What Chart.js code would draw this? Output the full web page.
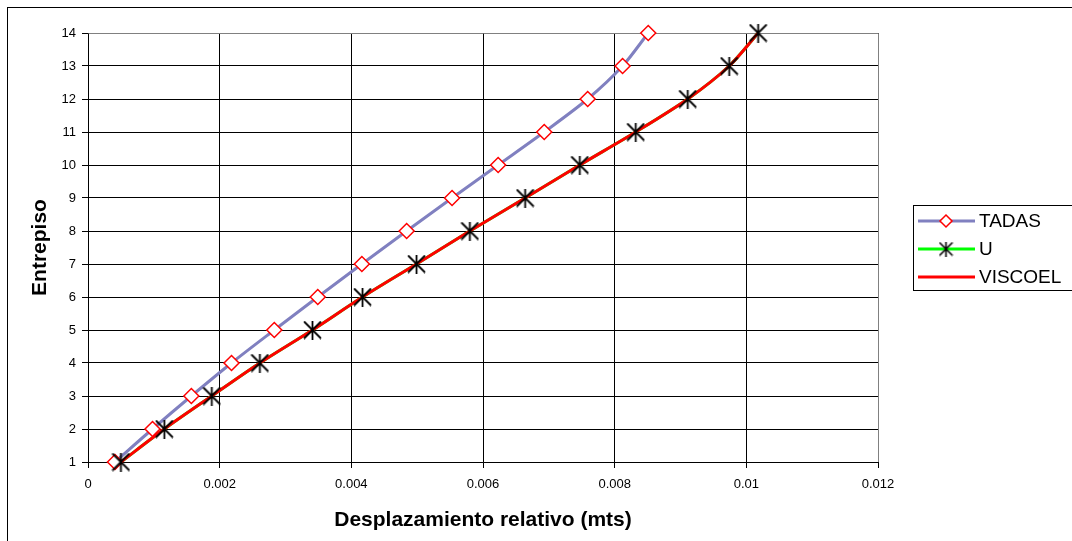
<!DOCTYPE html>
<html>
<head>
<meta charset="utf-8">
<script src="https://cdn.jsdelivr.net/npm/chart.js@4.4.0/dist/chart.umd.min.js"></script>
<style>
  html, body { margin: 0; padding: 0; background: #fff; }
  #wrap { width: 1072px; height: 541px; }
</style>
</head>
<body>
<div id="wrap"><canvas id="graph" width="1072" height="541"></canvas></div>
<script>
  // data
  const floors = [1, 2, 3, 4, 5, 6, 7, 8, 9, 10, 11, 12, 13, 14];
  const tadasX = [0.00041, 0.00098, 0.00157, 0.00218, 0.00283, 0.00349, 0.00416, 0.00484, 0.00553, 0.00623, 0.00693, 0.00759, 0.00812, 0.00851];
  const uX = [0.00050, 0.00116, 0.00188, 0.00261, 0.00341, 0.00417, 0.00499, 0.00580, 0.00664, 0.00747, 0.00832, 0.00911, 0.00974, 0.01018];
  const viscoelX = [0.00050, 0.00116, 0.00188, 0.00261, 0.00341, 0.00417, 0.00499, 0.00580, 0.00664, 0.00747, 0.00832, 0.00911, 0.00974, 0.01018];
  const xTicks = [0, 0.002, 0.004, 0.006, 0.008, 0.01, 0.012];
  const yTicks = [1, 2, 3, 4, 5, 6, 7, 8, 9, 10, 11, 12, 13, 14];
  const seriesNames = ["TADAS", "U", "VISCOEL"];

  const FONT = "Arial, 'Liberation Sans', sans-serif";
  const TADAS_COLOR = "#8080C0";
  const U_COLOR = "#00FF00";
  const VISCO_COLOR = "#FF0000";

  const pts = (xs) => xs.map((x, i) => ({ x: x, y: floors[i] }));

  // excel style asterisk marker
  function makeStar(size, lw) {
    const c = document.createElement("canvas");
    c.width = size;
    c.height = size;
    const g = c.getContext("2d");
    const m = size / 2;
    const r = size / 2 - 1;
    g.strokeStyle = "#000";
    g.lineWidth = lw;
    g.beginPath();
    g.moveTo(m - r, m - r); g.lineTo(m + r, m + r);
    g.moveTo(m + r, m - r); g.lineTo(m - r, m + r);
    g.moveTo(m, 0); g.lineTo(m, size);
    g.stroke();
    return c;
  }
  const star = makeStar(19, 1.8);
  const smallStar = makeStar(15, 1.6);

  const frame = {
    id: "frame",
    beforeDatasetsDraw(chart) {
      const a = chart.chartArea;
      const ctx = chart.ctx;
      ctx.save();
      ctx.strokeStyle = "#808080";
      ctx.lineWidth = 1;
      ctx.beginPath();
      ctx.moveTo(Math.round(a.left) + 0.5, Math.round(a.top) + 0.5);
      ctx.lineTo(Math.round(a.right) + 0.5, Math.round(a.top) + 0.5);
      ctx.lineTo(Math.round(a.right) + 0.5, Math.round(a.bottom));
      ctx.stroke();
      ctx.restore();
    },
    afterDraw(chart) {
      const ctx = chart.ctx;
      ctx.save();
      ctx.strokeStyle = "#000";
      ctx.lineWidth = 1;
      ctx.strokeRect(7.5, 7.5, 1100, 600);

      // legend
      ctx.strokeRect(913.5, 205.5, 200, 85);
      const rows = [221, 249, 277];
      const cols = [TADAS_COLOR, U_COLOR, VISCO_COLOR];
      rows.forEach((y, i) => {
        ctx.strokeStyle = cols[i];
        ctx.lineWidth = 3;
        ctx.beginPath();
        ctx.moveTo(918, y);
        ctx.lineTo(975, y);
        ctx.stroke();
      });
      // diamond
      ctx.strokeStyle = "#FF0000";
      ctx.fillStyle = "#fff";
      ctx.lineWidth = 1.5;
      ctx.beginPath();
      ctx.moveTo(946, rows[0] - 6);
      ctx.lineTo(952, rows[0]);
      ctx.lineTo(946, rows[0] + 6);
      ctx.lineTo(940, rows[0]);
      ctx.closePath();
      ctx.fill();
      ctx.stroke();
      ctx.drawImage(smallStar, 946 - 7.5, rows[1] - 7.5);

      ctx.fillStyle = "#000";
      ctx.font = "19px " + FONT;
      ctx.textBaseline = "middle";
      ctx.textAlign = "left";
      seriesNames.forEach((n, i) => ctx.fillText(n, 979, rows[i] + 1));
      ctx.restore();
    }
  };

  new Chart(document.getElementById("graph").getContext("2d"), {
    type: "scatter",
    data: {
      datasets: [
        {
          label: "U markers",
          data: pts(uX),
          showLine: false,
          pointStyle: star,
          order: 0,
          clip: false
        },
        {
          label: seriesNames[0],
          data: pts(tadasX),
          showLine: true,
          borderColor: TADAS_COLOR,
          borderWidth: 3,
          tension: 0.3,
          pointStyle: "rectRot",
          pointRadius: 7.5,
          pointBorderColor: "#FF0000",
          pointBackgroundColor: "#FFFFFF",
          pointBorderWidth: 1.5,
          order: 1,
          clip: false
        },
        {
          label: seriesNames[2],
          data: pts(viscoelX),
          showLine: true,
          borderColor: VISCO_COLOR,
          borderWidth: 3,
          tension: 0.3,
          pointRadius: 0,
          order: 2,
          clip: false
        },
        {
          label: seriesNames[1],
          data: pts(uX),
          showLine: true,
          borderColor: U_COLOR,
          borderWidth: 3,
          tension: 0.3,
          pointRadius: 0,
          order: 3,
          clip: false
        }
      ]
    },
    options: {
      responsive: false,
      animation: false,
      devicePixelRatio: 1,
      layout: { padding: { left: 0, top: 33, right: 194, bottom: 0 } },
      plugins: { legend: { display: false }, tooltip: { enabled: false } },
      scales: {
        x: {
          type: "linear",
          min: 0,
          max: 0.012,
          afterFit: (s) => { s.height = 79; },
          afterBuildTicks: (s) => { s.ticks = xTicks.map((v) => ({ value: v })); },
          ticks: {
            color: "#000",
            font: { family: FONT, size: 13 },
            padding: 9,
            maxRotation: 0,
            callback: (v) => String(v)
          },
          grid: { color: "#000", lineWidth: 1, tickLength: 6 },
          border: { color: "#000" },
          title: {
            display: true,
            text: "Desplazamiento relativo (mts)",
            color: "#000",
            font: { family: FONT, size: 21, weight: "bold" },
            padding: { top: 0, bottom: 8 }
          }
        },
        y: {
          type: "linear",
          min: 1,
          max: 14,
          afterFit: (s) => { s.width = 88; },
          afterBuildTicks: (s) => { s.ticks = yTicks.map((v) => ({ value: v })); },
          ticks: {
            color: "#000",
            font: { family: FONT, size: 13 },
            padding: 6
          },
          grid: { color: "#000", lineWidth: 1, tickLength: 6 },
          border: { color: "#000" },
          title: {
            display: true,
            text: "Entrepiso",
            color: "#000",
            font: { family: FONT, size: 21, weight: "bold" },
            padding: { top: 28, bottom: 0 }
          }
        }
      }
    },
    plugins: [frame]
  });
</script>
</body>
</html>
